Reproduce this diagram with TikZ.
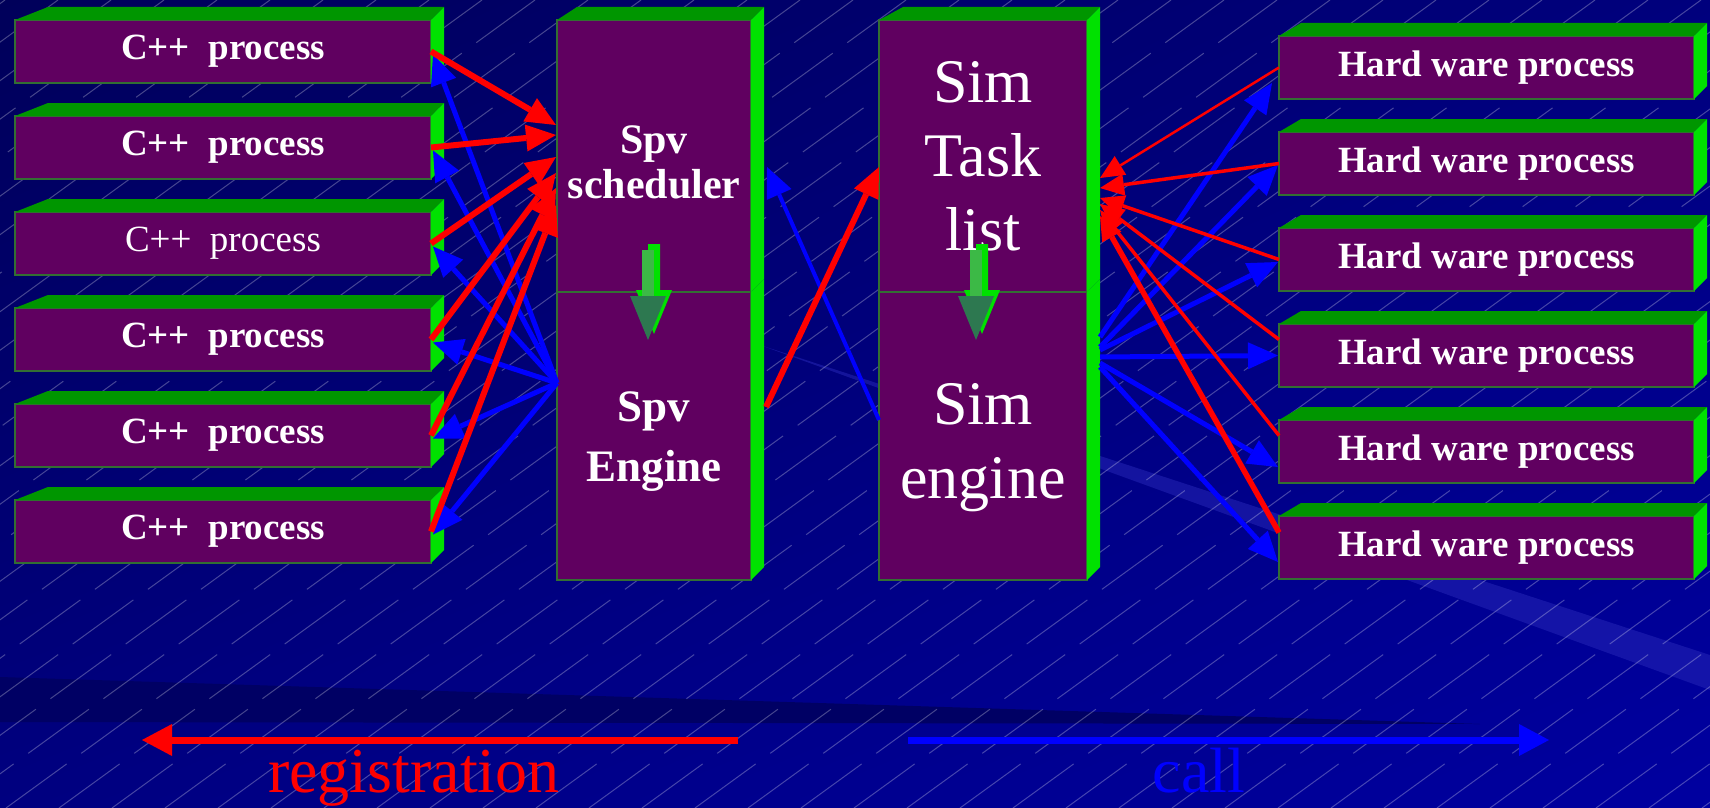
\documentclass[tikz,border=0pt]{standalone}
\usepackage{fontspec}
\setmainfont{Liberation Serif}
\usetikzlibrary{arrows.meta, calc, shadings}

\definecolor{boxpurple}{RGB}{96,0,96}
\definecolor{boxedge}{RGB}{51,110,51}
\definecolor{boxtop}{RGB}{0,150,0}
\definecolor{boxside}{RGB}{0,225,0}
\definecolor{bgA}{RGB}{0,0,90}
\definecolor{bgB}{RGB}{0,0,125}
\definecolor{bgC}{RGB}{0,0,128}
\definecolor{bgD}{RGB}{0,0,160}
\definecolor{bgdark}{RGB}{0,0,100}
\definecolor{bglight}{RGB}{40,40,185}
\definecolor{arrowface}{RGB}{45,120,80}
\definecolor{arrowshaft}{RGB}{60,185,70}
\definecolor{regred}{RGB}{255,0,0}
\definecolor{callblue}{RGB}{0,0,255}

\begin{document}
\begin{tikzpicture}[x=1pt, y=-1pt,
    procbox/.style={draw=boxedge, line width=1.5pt, fill=boxpurple, text=white, inner sep=0pt, outer sep=0pt},
    cppbox/.style={procbox, minimum width=416pt, minimum height=63pt, font=\fontsize{37}{40}\selectfont\bfseries},
    hwbox/.style={procbox, minimum width=415pt, minimum height=63pt, font=\fontsize{37}{40}\selectfont\bfseries},
    spvbox/.style={procbox, minimum width=194pt, align=center},
    simbox/.style={procbox, minimum width=208pt, align=center, font=\fontsize{62}{74}\selectfont},
    boxtext/.style={text=white, align=center, inner sep=0pt},
    topface/.style={fill=boxtop},
    sideface/.style={fill=boxside},
    regline/.style={draw=regred, line width=6pt, -{Triangle[length=30pt, width=27pt, line width=0pt]}},
    callline/.style={draw=callblue, line width=5pt, -{Triangle[length=30pt, width=27pt, line width=0pt]}},
    legendline/.style={line width=7pt, -{Triangle[length=30pt, width=32pt, line width=0pt]}},
    legendtext/.style={anchor=base, font=\fontsize{64}{64}\selectfont},
    hatch/.style={white, opacity=0.27, line width=1pt, dash pattern=on 75pt off 18pt}
]

%%Parameters
%% box depth, can be modified
\def\depthX{13}
\def\depthY{13}

\useasboundingbox (0,0) rectangle (1710,808);

%% background
\shade[upper left=bgA, upper right=bgB, lower left=bgC, lower right=bgD] (0,0) rectangle (1710,808);
\fill[bgdark] (0,677) -- (1480,724) -- (0,722) -- cycle;
\fill[bglight, opacity=0.5] (760,345) -- (1710,655) -- (1710,690) -- cycle;

\begin{scope}
    \clip (0,0) rectangle (1710,808);
    \foreach \h in {-1160,-1107,...,1710}
        \draw[hatch] (\h,808) -- ++(1112,-808);
\end{scope}



    %% C++ process boxes
    \node[cppbox] (cpp1) at (223, 51.5) {C++~ process};
    \node[cppbox] (cpp2) at (223, 147.5) {C++~ process};
    \node[cppbox, font=\fontsize{37}{40}\selectfont] (cpp3) at (223, 243.5) {C++~ process};
    \node[cppbox] (cpp4) at (223, 339.5) {C++~ process};
    \node[cppbox] (cpp5) at (223, 435.5) {C++~ process};
    \node[cppbox] (cpp6) at (223, 531.5) {C++~ process};


    %% Hard ware process boxes
    \node[hwbox] (hw1) at (1486.5, 67.5) {Hard ware process};
    \node[hwbox] (hw2) at (1486.5, 163.5) {Hard ware process};
    \node[hwbox] (hw3) at (1486.5, 259.5) {Hard ware process};
    \node[hwbox] (hw4) at (1486.5, 355.5) {Hard ware process};
    \node[hwbox] (hw5) at (1486.5, 451.5) {Hard ware process};
    \node[hwbox] (hw6) at (1486.5, 547.5) {Hard ware process};


    %% Spv and Sim columns : engine first, the upper box covers its top
    \node[spvbox, minimum height=288pt] (spveng) at (654, 436) {};
    \node[spvbox, minimum height=272pt] (spvsch) at (654, 156) {};

    \node[simbox, minimum height=288pt] (simeng) at (983, 436) {};
    \node[simbox, minimum height=272pt] (simtask) at (983, 156) {Sim\\Task\\list};

    \node[boxtext, font=\fontsize{42}{45}\selectfont\bfseries] (spvschtext) at ($(spvsch)+(0,6)$) {Spv\\scheduler};
    \node[boxtext, font=\fontsize{45}{60}\selectfont\bfseries] (spvengtext) at ($(spveng)+(0,6)$) {Spv\\Engine};
    \node[boxtext, font=\fontsize{62}{74}\selectfont] (simengtext) at ($(simeng)+(0,12)$) {Sim\\engine};


    %% 3D faces
    \foreach \n/\dl in {cpp1/33, cpp2/33, cpp3/33, cpp4/33, cpp5/33, cpp6/33, spvsch/20, simtask/24,
                        hw1/22, hw2/22, hw3/22, hw4/22, hw5/22, hw6/22} {
        \fill[topface] (\n.north west) -- (\n.north east) -- ($(\n.north east)+(\depthX,-\depthY)$) -- ($(\n.north west)+(\dl,-\depthY)$) -- cycle;
        \fill[sideface] (\n.north east) -- ($(\n.north east)+(\depthX,-\depthY)$) -- ($(\n.south east)+(\depthX,-\depthY)$) -- (\n.south east) -- cycle;
    }
    \foreach \n in {spveng, simeng}
        \fill[sideface] (\n.north east) -- ($(\n.north east)+(\depthX,-\depthY)$) -- ($(\n.south east)+(\depthX,-\depthY)$) -- (\n.south east) -- cycle;


    %% green down arrows between the stacked boxes
    \foreach \n/\o in {spvsch/-3, simtask/-4} {
        \coordinate (dn) at ($(\n.south)+(\o,0)$);
        \fill[boxside] ($(dn)+(-3,-48)$) -- ++(12,0) -- ++(0,46) -- ++(12,0) -- ++(-18,44) -- ++(-18,-44) -- ++(12,0) -- cycle;
        \fill[arrowface] ($(dn)+(-9,4)$) -- ++(24,0) -- ++(-18,44) -- ++(-18,-44) -- cycle;
        \fill[arrowshaft] ($(dn)+(-9,-42)$) rectangle ($(dn)+(3,4)$);
    }


    %% call : Spv Engine -> C++ process
    \coordinate (spvcall) at ($(spveng.west)+(0,-53)$);
    \foreach \i in {1,...,6}
        \draw[callline] (spvcall) -- ($(cpp\i.east)+(2,3)$);

    %% registration : C++ process -> Spv scheduler
    \foreach \i/\t in {1/-31, 2/-21, 3/1, 4/17, 5/32, 6/49}
        \draw[regline] (cpp\i.east) -- ($(spvsch.west)+(-1,\t)$);


    %% Sim engine -> Spv scheduler, Spv Engine -> Sim Task list
    \draw[callline, line width=4pt] ($(simeng.west)+(0,-16)$) -- ($(spvsch.east)+(16,11)$);
    \draw[regline] ($(spveng.east)+(15,-29)$) -- ($(simtask.west)+(0,11)$);


    %% call : Sim engine -> Hard ware process
    \foreach \i/\s/\dx/\t in {1/-99/-7/15.5, 2/-89/-1/1.5, 3/-86/-1/2.5, 4/-79/-1/0, 5/-73/-1/15.5, 6/-69/-1/14.5}
        \draw[callline] ($(simeng.east)+(\depthX,\s)$) -- ($(hw\i.west)+(\dx,\t)$);

    %% registration : Hard ware process -> Sim Task list
    \foreach \i/\s/\t/\w in {1/0/22/2.5, 2/0/32/3.5, 3/0/42/3.5, 4/-16/48/3.5, 5/-16/54/3.5, 6/-15/60/5.5}
        \draw[regline, line width=\w pt, -{Triangle[length=24pt, width=22pt, line width=0pt]}] ($(hw\i.west)+(0,\s)$) -- ($(simtask.east)+(\depthX,\t)$);


    %% legend
    \coordinate (regfrom) at (738,740);
    \coordinate (regto) at (142,740);
    \coordinate (callfrom) at (908,740);
    \coordinate (callto) at (1549,740);

    \draw[legendline, draw=regred] (regfrom) -- (regto);
    \draw[legendline, draw=callblue] (callfrom) -- (callto);

    \node[legendtext, text=regred] (regtext) at (414,792) {registration};
    \node[legendtext, text=callblue] (calltext) at (1199,792) {call};

\end{tikzpicture}
\end{document}
